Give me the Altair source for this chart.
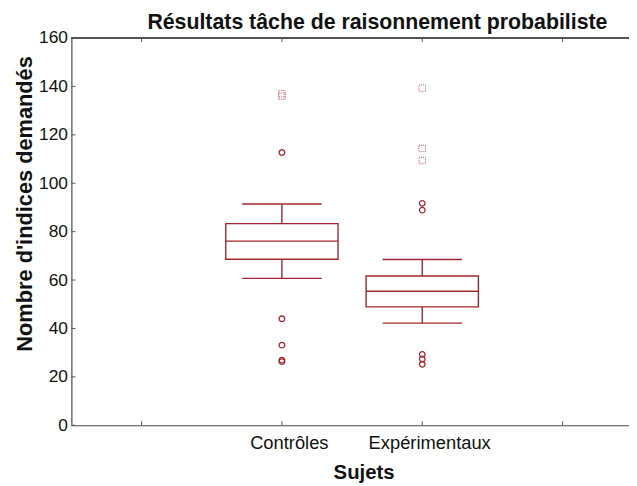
import altair as alt
import pandas as pd

# ---- data ----
title_text = "Résultats tâche de raisonnement probabiliste"
categories = ["Contrôles", "Expérimentaux"]
whisker_low = [60.7, 42.2]
q1 = [68.6, 48.9]
median = [76.1, 55.4]
q3 = [83.3, 61.7]
whisker_high = [91.4, 68.5]

outlier_cat = ["Contrôles"] * 5 + ["Expérimentaux"] * 5
outlier_val = [112.7, 44.0, 33.1, 26.9, 26.3, 91.7, 88.9, 29.3, 27.4, 25.2]

extreme_cat = ["Contrôles", "Contrôles", "Expérimentaux", "Expérimentaux", "Expérimentaux"]
extreme_val = [137.0, 136.0, 139.3, 114.4, 109.4]

y_ticks = [0, 20, 40, 60, 80, 100, 120, 140, 160]
x_ticks = [0.5, 1.5, 2.5, 3.5]

# ---- layout / style ----
W, H = 563, 391
FONT = "Liberation Sans"
RED = "#A0282C"
RED_LIGHT = "#C0585A"
FRAME = "#555555"
pos = {c: i + 1.5 for i, c in enumerate(categories)}

box_df = pd.DataFrame({
    "cat": categories,
    "lo": whisker_low, "q1": q1, "med": median, "q3": q3, "hi": whisker_high,
})
box_df["p"] = box_df["cat"].map(pos)
out_df = pd.DataFrame({"cat": outlier_cat, "v": outlier_val})
out_df["p"] = out_df["cat"].map(pos)
ext_df = pd.DataFrame({"cat": extreme_cat, "v": extreme_val})
ext_df["p"] = ext_df["cat"].map(pos)
yt_df = pd.DataFrame({"v": y_ticks})
xt_df = pd.DataFrame({"v": x_ticks})
title_df = pd.DataFrame({"t": [title_text]})

xs = alt.Scale(domain=[0, W / 141.7], nice=False, zero=False)
ys = alt.Scale(domain=[0, 160], nice=False)

label_expr = "datum.value == 1.5 ? 'Contrôles' : (datum.value == 2.5 ? 'Expérimentaux' : '')"

x_axis = alt.Axis(
    values=x_ticks, labelExpr=label_expr, grid=False, ticks=False, tickSize=0,
    labelFont=FONT, labelFontSize=18.5, labelColor="#111", labelPadding=8, labelOffset=7,
    domainColor=FRAME, domainWidth=1.2,
    title="Sujets", titleFont=FONT, titleFontSize=20.5, titleFontWeight="bold",
    titleColor="#111", titleX=295, titleY=54, titleBaseline="alphabetic",
    titleAlign="center",
)
y_axis = alt.Axis(
    values=y_ticks, grid=False, ticks=False, tickSize=0,
    labelFont=FONT, labelFontSize=17.5, labelColor="#111", labelPadding=4,
    domainColor=FRAME, domainWidth=1.2,
    title="Nombre d'indices demandés", titleFont=FONT, titleFontSize=22,
    titleFontWeight="bold", titleColor="#111", titleX=-47, titleY=167,
    titleBaseline="middle", titleAlign="center", titleAngle=270,
)

base_box = alt.Chart(box_df)

box = base_box.mark_rect(fillOpacity=0, stroke=RED, strokeWidth=1.4).transform_calculate(
    xa="datum.p - 0.4", xb="datum.p + 0.4"
).encode(
    x=alt.X("xa:Q", scale=xs, axis=x_axis),
    x2="xb:Q",
    y=alt.Y("q1:Q", scale=ys, axis=y_axis),
    y2="q3:Q",
)

med = base_box.mark_rule(color=RED, strokeWidth=1.4).transform_calculate(
    xa="datum.p - 0.4", xb="datum.p + 0.4"
).encode(x=alt.X("xa:Q", scale=xs), x2="xb:Q", y=alt.Y("med:Q", scale=ys))

wh_up = base_box.mark_rule(color=RED, strokeWidth=1.4).encode(
    x=alt.X("p:Q", scale=xs), y=alt.Y("q3:Q", scale=ys), y2="hi:Q")
wh_lo = base_box.mark_rule(color=RED, strokeWidth=1.4).encode(
    x=alt.X("p:Q", scale=xs), y=alt.Y("lo:Q", scale=ys), y2="q1:Q")

cap_hi = base_box.mark_rule(color=RED, strokeWidth=1.4).transform_calculate(
    xa="datum.p - 0.283", xb="datum.p + 0.283"
).encode(x=alt.X("xa:Q", scale=xs), x2="xb:Q", y=alt.Y("hi:Q", scale=ys))
cap_lo = base_box.mark_rule(color=RED, strokeWidth=1.4).transform_calculate(
    xa="datum.p - 0.283", xb="datum.p + 0.283"
).encode(x=alt.X("xa:Q", scale=xs), x2="xb:Q", y=alt.Y("lo:Q", scale=ys))

outl = alt.Chart(out_df).mark_point(
    shape="circle", size=32, filled=False, color=RED, strokeWidth=1.3, opacity=1
).encode(x=alt.X("p:Q", scale=xs), y=alt.Y("v:Q", scale=ys))

extr = alt.Chart(ext_df).mark_point(
    shape="square", size=42, filled=False, color=RED_LIGHT, strokeWidth=1,
    strokeDash=[1, 1], opacity=1
).encode(x=alt.X("p:Q", scale=xs), y=alt.Y("v:Q", scale=ys))

# inward ticks and the top border
ytick = alt.Chart(yt_df).mark_rule(color=FRAME, strokeWidth=1).encode(
    y=alt.Y("v:Q", scale=ys), x=alt.value(0), x2=alt.value(4))
xtick_b = alt.Chart(xt_df).mark_rule(color=FRAME, strokeWidth=1).encode(
    x=alt.X("v:Q", scale=xs), y=alt.value(H), y2=alt.value(H - 4))
xtick_t = alt.Chart(xt_df).mark_rule(color=FRAME, strokeWidth=1).encode(
    x=alt.X("v:Q", scale=xs), y=alt.value(0), y2=alt.value(4))
top_line = alt.Chart(yt_df).mark_rule(color=FRAME, strokeWidth=1.2).encode(
    x=alt.value(0), x2=alt.value(W), y=alt.value(0))

title_mark = alt.Chart(title_df).mark_text(
    font=FONT, fontSize=21.5, fontWeight="bold", color="#111",
    align="center", baseline="alphabetic",
).encode(text="t:N", x=alt.value(309), y=alt.value(-9))

chart = alt.layer(
    box, med, wh_up, wh_lo, cap_hi, cap_lo, outl, extr,
    ytick, xtick_b, xtick_t, top_line, title_mark,
).properties(
    width=W, height=H,
    autosize=alt.AutoSizeParams(type="none"),
    padding={"left": 64, "top": 28, "right": 0, "bottom": 60},
).configure_view(stroke=None).configure(background="white")

chart.save("out.html", embed_options={"renderer": "svg", "actions": False})
